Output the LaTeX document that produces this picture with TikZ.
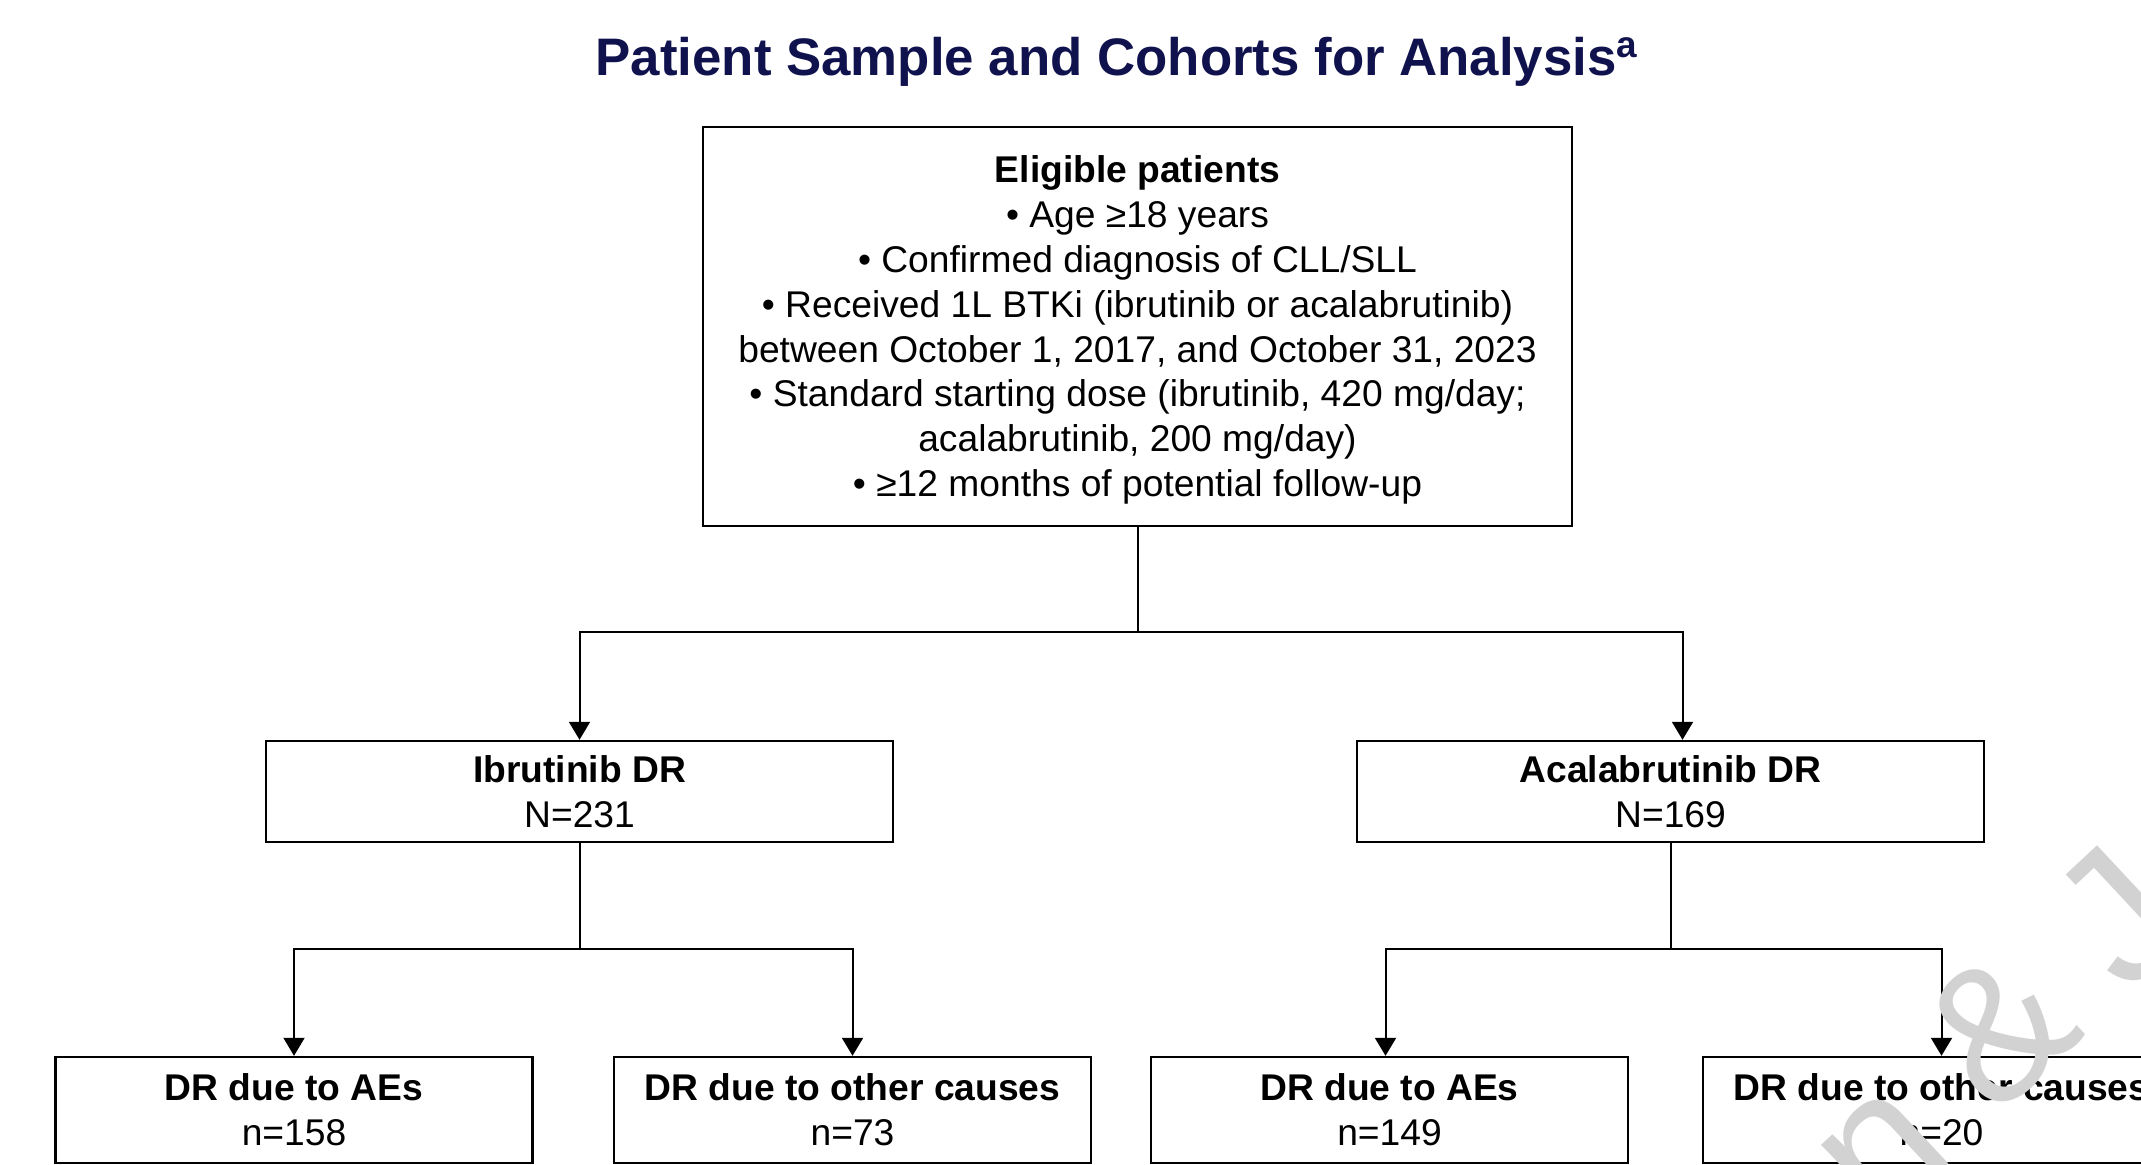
\documentclass[tikz,border=0pt]{standalone}
\usepackage{fontspec}
\setmainfont{Liberation Sans}
\usetikzlibrary{arrows.meta}
\definecolor{titlenavy}{RGB}{16,18,78}
\definecolor{markgray}{RGB}{210,210,210}

\begin{document}
\begin{tikzpicture}[x=0.5pt,y=-0.5pt]

                \tikzset{box/.style = {shape=rectangle,draw,line width=1.2pt,align=center,inner sep=0pt,font=\fontsize{18.6}{22.4}\selectfont}}
                \tikzset{mid/.style = {box,minimum width=313.5pt,minimum height=50.5pt}}
                \tikzset{leaf/.style = {box,minimum width=238.5pt,minimum height=53pt}}
                \tikzset{link/.style = {line width=1pt}}
                \tikzset{edge/.style = {-{Triangle[length=9pt,width=10.5pt]},line width=1pt}}

                \useasboundingbox (0,0) rectangle (2141,1165);
                \clip (0,0) rectangle (2141,1165);

                \node[font=\fontsize{26.4}{30}\selectfont\bfseries,text=titlenavy] (title) at (1117,62) {Patient Sample and Cohorts for Analysis\textsuperscript{a}};

                \node[box,minimum width=434.5pt,minimum height=199.5pt] (elig) at (1137.5,326.5) {\rule{0pt}{17pt}\textbf{Eligible patients}\\ • Age ≥18 years\\ • Confirmed diagnosis of CLL/SLL\\ • Received 1L BTKi (ibrutinib or acalabrutinib)\\ between October 1, 2017, and October 31, 2023\\ • Standard starting dose (ibrutinib, 420 mg/day;\\ acalabrutinib, 200 mg/day)\\ • ≥12 months of potential follow-up};

                \node[mid] (ibr) at (579.5,791.5) {\textbf{Ibrutinib DR}\\ N=231};
                \node[mid] (acal) at (1670.5,791.5) {\textbf{Acalabrutinib DR}\\ N=169};

                \node[leaf] (ibae) at (294,1110) {\textbf{DR due to AEs}\\ n=158};
                \node[leaf] (iboth) at (852.5,1110) {\textbf{DR due to other causes}\\ n=73};
                \node[leaf] (acae) at (1389.5,1110) {\textbf{DR due to AEs}\\ n=149};
                \node[leaf] (acoth) at (1941.5,1110) {\textbf{DR due to other causes}\\ n=20};

                \coordinate (split) at (1137.5,632);
                \coordinate (splitib) at (579.5,949);
                \coordinate (splitac) at (1670.5,949);

                \draw[link] (elig) -- (split);
                \draw[edge] (split) -| (ibr);
                \draw[edge] (split) -| ([xshift=6pt]acal.north);

                \draw[link] (ibr) -- (splitib);
                \draw[edge] (splitib) -| (ibae);
                \draw[edge] (splitib) -| (iboth);

                \draw[link] (acal) -- (splitac);
                \draw[edge] (splitac) -| ([xshift=-2pt]acae.north);
                \draw[edge] (splitac) -| (acoth);

                % watermark, cut by the page edge
                \node[text=markgray,font=\fontsize{95}{110}\selectfont,rotate=43] (mark) at (1996,1026) {Johnson \& Johnson};

        \end{tikzpicture}
\end{document}
